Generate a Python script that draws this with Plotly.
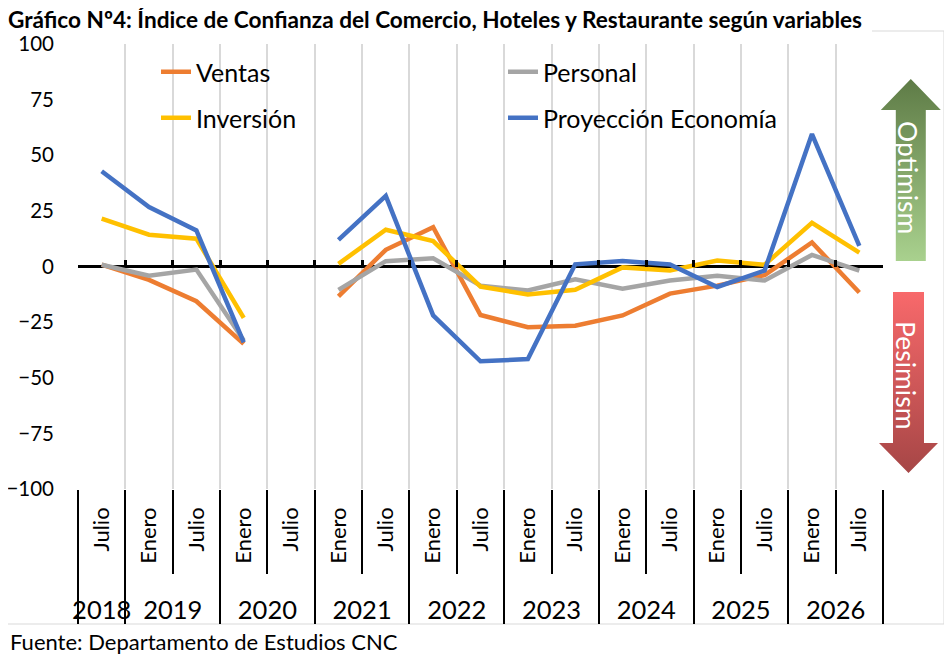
import numpy as np
import plotly.graph_objects as go

anios = ['2018', '2019', '2019', '2020', '2020', '2021', '2021', '2022', '2022',
         '2023', '2023', '2024', '2024', '2025', '2025', '2026', '2026']
meses = ['Julio', 'Enero', 'Julio', 'Enero', 'Julio', 'Enero', 'Julio', 'Enero', 'Julio',
         'Enero', 'Julio', 'Enero', 'Julio', 'Enero', 'Julio', 'Enero', 'Julio']

ventas = [0.8, -6.0, -15.6, -34.8, None, -13.4, 7.5, 17.7, -21.8, -27.3, -26.6,
          -22.0, -12.2, -8.6, -3.9, 10.8, -11.7]
personal = [0.8, -4.1, -1.4, -33.3, None, -10.5, 2.4, 3.7, -8.6, -10.8, -5.8,
            -10.0, -6.3, -4.2, -6.3, 5.2, -1.9]
inversion = [21.5, 14.3, 12.5, -23.1, None, 1.2, 16.5, 11.4, -9.0, -12.6, -10.5,
             -0.4, -1.8, 2.7, 0.8, 19.6, 6.2]
proyeccion = [42.8, 26.7, 16.2, -34.1, None, 12.0, 31.7, -22.0, -42.6, -41.6, 1.0,
              2.5, 0.9, -9.2, -1.8, 59.5, 9.3]

# Colores tipo Office
c_ventas = '#ED7D31'
c_personal = '#A5A5A5'
c_inversion = '#FFC000'
c_proyeccion = '#4472C4'

FUENTE = 'Lato, Noto Sans, sans-serif'

# La pagina tiene 8px de margen en el body: la figura se achica y todo se
# expresa en pixeles de pantalla (sx, sy) y se convierte
OFF = 8
W, H = 952 - OFF, 660 - OFF
ML, MR, MT = 78 - OFF, W - (944 - OFF), 44 - OFF
MB = H - (489 - OFF)
ancho = W - ML - MR
alto = H - MT - MB


def px(sx):
    return (sx - OFF - ML) / ancho


def py(sy):
    return (H - MB - (sy - OFF)) / alto


fin_x = px(883)  # borde derecho del area de datos

# categorias unicas (año-mes) para el eje
claves = [a + '-' + m for a, m in zip(anios, meses)]
n = len(claves)
limites = np.arange(n + 1) - 0.5
# limites y centros de cada año
idx = np.arange(n)
anios_unicos = list(dict.fromkeys(anios))
centros_anio = [idx[np.array(anios) == a].mean() for a in anios_unicos]
limites_anio = [idx[np.array(anios) == a].min() - 0.5 for a in anios_unicos] + [n - 0.5]

fig = go.Figure()

series = [
    ('Ventas', ventas, c_ventas, 'legend'),
    ('Personal', personal, c_personal, 'legend'),
    ('Inversión', inversion, c_inversion, 'legend2'),
    ('Proyección Economía', proyeccion, c_proyeccion, 'legend2'),
]
for nombre, vals, color, leg in series:
    fig.add_trace(go.Scatter(x=claves, y=vals, mode='lines', name=nombre,
                             line=dict(color=color, width=4.5), legend=leg))

# Trazas vacias para los ejes auxiliares
for ax in ['x2', 'x4', 'x5']:
    fig.add_trace(go.Scatter(x=[None], y=[None], xaxis=ax, yaxis='y', showlegend=False,
                             hoverinfo='skip'))

# Flechas de optimismo / pesimismo (subplot auxiliar en pixeles de pantalla)
def flecha(cx, y_base, y_punta, medio_cuerpo, medio_cabeza, largo_cabeza):
    s = 1 if y_punta > y_base else -1
    y_cab = y_punta - s * largo_cabeza
    xs = [cx - medio_cuerpo, cx + medio_cuerpo, cx + medio_cuerpo, cx + medio_cabeza,
          cx, cx - medio_cabeza, cx - medio_cuerpo, cx - medio_cuerpo]
    ys = [y_base, y_base, y_cab, y_cab, y_punta, y_cab, y_cab, y_base]
    return xs, ys

xs, ys = flecha(910.8, 261, 79, 15, 30, 31)
fig.add_trace(go.Scatter(x=xs, y=ys, fill='toself', mode='lines', line=dict(width=0),
                         fillgradient=dict(type='vertical', start=79, stop=261,
                                           colorscale=[[0, '#5E7B46'], [1, '#A9D18E']]),
                         xaxis='x3', yaxis='y3', showlegend=False, hoverinfo='skip'))
xs, ys = flecha(908.5, 292, 473, 15.5, 29.5, 30)
fig.add_trace(go.Scatter(x=xs, y=ys, fill='toself', mode='lines', line=dict(width=0),
                         fillgradient=dict(type='vertical', start=292, stop=473,
                                           colorscale=[[0, '#F8696B'], [1, '#A64646']]),
                         xaxis='x3', yaxis='y3', showlegend=False, hoverinfo='skip'))

fig.add_annotation(x=908, y=177, xref='x3', yref='y3', text='Optimism', textangle=90,
                   showarrow=False, font=dict(family=FUENTE, size=26.5, color='white'))
fig.add_annotation(x=906, y=375, xref='x3', yref='y3', text='Pesimism', textangle=90,
                   showarrow=False, font=dict(family=FUENTE, size=26.5, color='white'))

# Fuente
fig.add_annotation(x=px(OFF), y=py(641), xref='paper', yref='paper',
                   xanchor='left', yanchor='middle', showarrow=False,
                   text='Fuente: Departamento de Estudios CNC',
                   font=dict(family=FUENTE, size=22, color='black'))

# Fondo blanco detras de la leyenda (tapa la grilla)
fig.add_shape(type='rect', xref='paper', yref='paper', layer='between',
              x0=px(80), x1=px(830), y0=py(142), y1=py(48),
              fillcolor='white', line=dict(width=0))
# Borde del grafico (abajo, derecha y tramo superior libre del titulo)
borde = dict(type='line', xref='paper', yref='paper', layer='below',
             line=dict(color='#D9D9D9', width=1))
fig.add_shape(borde, x0=px(OFF), x1=px(944), y0=py(624), y1=py(624))
fig.add_shape(borde, x0=px(944), x1=px(944), y0=py(624), y1=py(31))
fig.add_shape(borde, x0=px(872), x1=px(944), y0=py(31), y1=py(31))

eje_aux = dict(overlaying='x', domain=[0, fin_x], range=[-0.5, n - 0.5],
               showgrid=False, zeroline=False, showline=False, automargin=False)

fig.update_layout(
    width=W, height=H,
    margin=dict(l=ML, r=MR, t=MT, b=MB),
    paper_bgcolor='white', plot_bgcolor='rgba(0,0,0,0)',
    font=dict(family=FUENTE, color='black'),
    title=dict(text='<b>Gráfico Nº4: Índice de Confianza del Comercio, Hoteles y Restaurante según variables</b>',
               x=0, xref='container', xanchor='left', y=1 - 4 / H, yanchor='top',
               font=dict(family=FUENTE, size=22.6, color='black')),
    # meses
    xaxis=dict(type='category', domain=[0, fin_x], range=[-0.5, n - 0.5],
               categoryorder='array', categoryarray=claves,
               tickvals=claves, ticktext=meses, tickson='boundaries',
               showgrid=True, gridcolor='#D9D9D9', gridwidth=1.5, ticks='',
               tickangle=-90, ticklabelstandoff=13, showline=False, zeroline=False,
               automargin=False, tickfont=dict(family=FUENTE, size=22, color='black')),
    # marcas sobre el eje cero
    xaxis2=dict(eje_aux, anchor='free', position=0.5, tickvals=limites, ticks='inside',
                ticklen=7, tickwidth=2.5, tickcolor='black', showticklabels=False),
    # separadores cortos entre meses
    xaxis4=dict(eje_aux, anchor='y', side='bottom', tickvals=limites, ticks='outside',
                ticklen=84, tickwidth=2, tickcolor='black', showticklabels=False),
    # años y separadores largos
    xaxis5=dict(eje_aux, anchor='y', side='bottom', tickvals=centros_anio, ticktext=anios_unicos,
                ticks='', ticklabelstandoff=103,
                tickfont=dict(family=FUENTE, size=25.5, color='black'),
                minor=dict(tickvals=limites_anio, ticks='outside', ticklen=134, tickwidth=2,
                           tickcolor='black', showgrid=False)),
    yaxis=dict(range=[-100, 100], tickvals=np.arange(-100, 101, 25), showgrid=False,
               zeroline=True, zerolinecolor='black', zerolinewidth=2.5, showline=False,
               ticks='', ticklabelstandoff=23, automargin=False,
               tickfont=dict(family=FUENTE, size=20.5, color='black')),
    xaxis3=dict(domain=[0, 1], range=[OFF + ML, OFF + W - MR], anchor='y3', visible=False),
    yaxis3=dict(domain=[0, 1], range=[OFF + H - MB, OFF + MT], anchor='x3', visible=False),
    legend=dict(orientation='h', x=px(156), y=py(72),
                xanchor='left', yanchor='middle', entrywidth=302, entrywidthmode='pixels',
                bgcolor='rgba(0,0,0,0)', font=dict(family=FUENTE, size=25, color='black')),
    legend2=dict(orientation='h', x=px(156), y=py(118),
                 xanchor='left', yanchor='middle', entrywidth=302, entrywidthmode='pixels',
                 bgcolor='rgba(0,0,0,0)', font=dict(family=FUENTE, size=25, color='black')),
    showlegend=True,
)

fig.write_html('out.html')
